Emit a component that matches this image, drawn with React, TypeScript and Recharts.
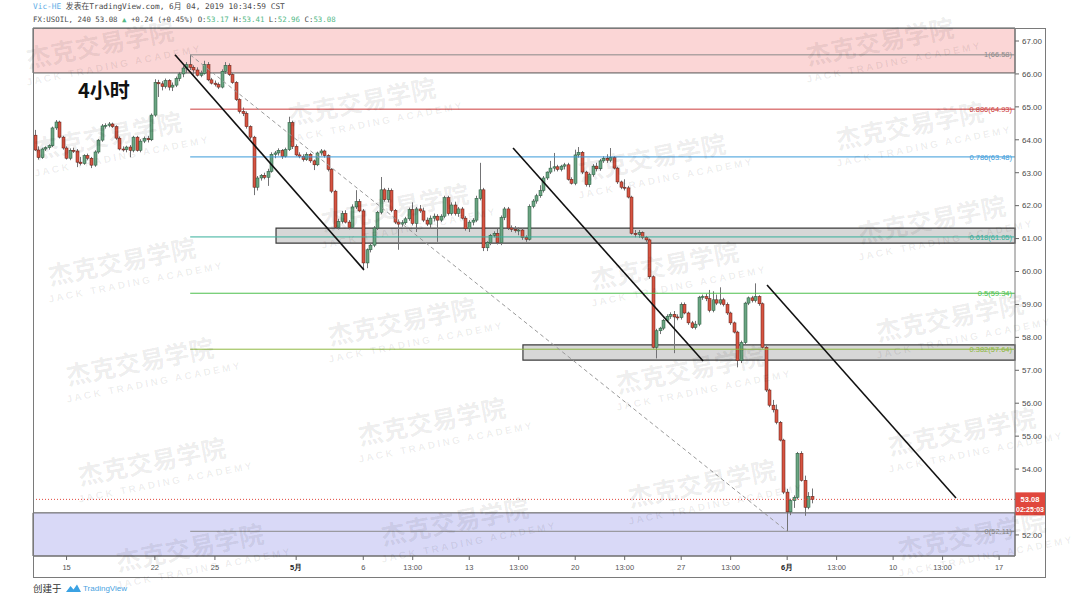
import React from 'react';
import { ComposedChart, Bar, XAxis, YAxis, ReferenceLine, ReferenceArea } from 'recharts';

// FX:USOIL 4h candles [open, high, low, close]
const wk0412 = [
  [64.14, 64.30, 63.66, 63.69], [63.69, 63.80, 63.40, 63.46], [63.46, 63.76, 63.42, 63.72],
  [63.72, 63.80, 63.66, 63.76], [63.76, 63.86, 63.70, 63.82], [63.82, 64.40, 63.78, 64.36],
  [64.36, 64.60, 64.30, 64.54], [64.54, 64.58, 64.04, 64.08], [64.08, 64.12, 63.70, 63.75],
];
const wk0415 = [
  [63.75, 63.80, 63.40, 63.44], [63.44, 63.74, 63.38, 63.68], [63.68, 63.76, 63.60, 63.66],
  [63.66, 63.72, 63.17, 63.32], [63.32, 63.48, 63.22, 63.28], [63.28, 63.56, 63.24, 63.52],
  [63.52, 63.58, 63.38, 63.44], [63.44, 63.48, 63.14, 63.23], [63.23, 63.68, 63.18, 63.63],
  [63.63, 64.02, 63.58, 63.99], [63.99, 64.48, 63.94, 64.42], [64.42, 64.50, 64.34, 64.44],
  [64.44, 64.54, 64.38, 64.48], [64.48, 64.52, 64.36, 64.40], [64.40, 64.44, 64.00, 64.05],
  [64.05, 64.10, 63.68, 63.72], [63.72, 63.80, 63.64, 63.70], [63.70, 63.82, 63.62, 63.78],
  [63.78, 63.84, 63.47, 63.68], [63.68, 64.12, 63.62, 64.08], [64.08, 64.12, 63.64, 63.68],
  [63.68, 64.02, 63.62, 63.96], [63.96, 64.10, 63.90, 64.04], [64.04, 64.12, 63.92, 64.00],
];
const wk0422 = [
  [64.00, 64.80, 63.96, 64.75], [64.75, 65.84, 64.70, 65.74], [65.74, 65.82, 65.30, 65.70],
  [65.70, 65.78, 65.50, 65.62], [65.62, 65.86, 65.56, 65.80], [65.80, 65.84, 65.50, 65.60],
  [65.60, 65.74, 65.48, 65.66], [65.66, 65.92, 65.60, 65.86], [65.86, 66.06, 65.78, 66.00],
  [66.00, 66.25, 65.90, 66.18], [66.18, 66.36, 66.02, 66.28], [66.28, 66.58, 66.12, 66.20],
  [66.20, 66.26, 65.98, 66.12], [66.12, 66.20, 65.92, 65.96], [65.96, 66.10, 65.90, 66.02],
  [66.02, 66.40, 65.98, 66.28], [66.28, 66.36, 65.78, 65.82], [65.82, 65.88, 65.68, 65.72],
  [65.72, 65.80, 65.62, 65.68], [65.68, 65.74, 65.54, 65.60], [65.60, 66.14, 65.56, 66.08],
  [66.08, 66.36, 66.00, 66.26], [66.26, 66.32, 65.94, 65.98], [65.98, 66.02, 65.70, 65.74],
  [65.74, 65.78, 65.18, 65.22], [65.22, 65.26, 64.80, 64.86], [64.86, 64.98, 64.72, 64.80],
  [64.80, 64.86, 64.34, 64.40], [64.40, 64.44, 64.02, 64.08], [64.08, 64.12, 62.32, 62.56],
];
const wk0429 = [
  [62.56, 62.90, 62.46, 62.84], [62.84, 62.96, 62.76, 62.92], [62.92, 63.00, 62.80, 62.86],
  [62.86, 63.12, 62.60, 63.04], [63.04, 63.62, 63.00, 63.56], [63.56, 63.66, 63.44, 63.60],
  [63.60, 63.74, 63.52, 63.68], [63.68, 63.72, 63.42, 63.50], [63.50, 63.76, 63.46, 63.70],
  [63.70, 64.70, 63.66, 64.52], [64.52, 64.58, 63.72, 63.80], [63.80, 63.86, 63.50, 63.54],
  [63.54, 63.62, 63.44, 63.50], [63.50, 63.56, 63.34, 63.40], [63.40, 63.62, 63.36, 63.56],
  [63.56, 63.60, 63.30, 63.36], [63.36, 63.40, 63.08, 63.24], [63.24, 63.64, 63.20, 63.60],
  [63.60, 63.72, 63.52, 63.66], [63.66, 63.70, 63.46, 63.52], [63.52, 63.56, 63.04, 63.10],
  [63.10, 63.14, 62.38, 62.44], [62.44, 62.48, 61.30, 61.34], [61.34, 61.60, 61.28, 61.52],
  [61.52, 61.84, 61.46, 61.76], [61.76, 61.86, 61.46, 61.50], [61.50, 61.56, 61.28, 61.34],
  [61.34, 62.04, 61.30, 61.96], [61.96, 62.47, 61.90, 62.12], [62.12, 62.20, 61.80, 61.84],
];
const wk0506 = [
  [61.84, 61.90, 60.04, 60.26], [60.26, 60.70, 60.10, 60.66], [60.66, 60.86, 60.58, 60.80],
  [60.80, 61.38, 60.74, 61.32], [61.32, 61.84, 61.26, 61.80], [61.80, 62.87, 61.74, 62.48],
  [62.48, 62.54, 62.12, 62.18], [62.18, 62.54, 62.10, 62.46], [62.46, 62.52, 61.80, 61.86],
  [61.86, 61.90, 61.44, 61.50], [61.50, 61.58, 60.66, 61.44], [61.44, 61.56, 61.36, 61.48],
  [61.48, 61.66, 61.42, 61.60], [61.60, 61.94, 61.54, 61.88], [61.88, 62.10, 61.40, 61.46],
  [61.46, 61.96, 61.20, 61.90], [61.90, 62.02, 61.78, 61.84], [61.84, 61.94, 61.50, 61.56],
  [61.56, 61.64, 61.38, 61.44], [61.44, 61.70, 61.30, 61.62], [61.62, 61.76, 61.52, 61.68],
  [61.68, 61.74, 60.90, 61.56], [61.56, 61.74, 61.50, 61.68], [61.68, 62.30, 61.62, 62.24],
  [62.24, 62.30, 61.70, 61.76], [61.76, 62.10, 61.70, 62.02], [62.02, 62.12, 61.70, 61.76],
  [61.76, 61.96, 61.66, 61.90], [61.90, 61.96, 61.58, 61.62], [61.62, 61.68, 61.24, 61.30],
];
const wk0513 = [
  [61.30, 61.56, 61.20, 61.50], [61.50, 61.62, 61.40, 61.56], [61.56, 62.30, 61.50, 62.22],
  [62.22, 63.30, 62.16, 62.48], [62.48, 62.54, 60.62, 60.72], [60.72, 60.92, 60.62, 60.88],
  [60.88, 61.14, 60.80, 61.10], [61.10, 61.22, 61.04, 61.16], [61.16, 61.30, 60.82, 60.88],
  [60.88, 61.70, 60.80, 61.64], [61.64, 61.96, 61.56, 61.90], [61.90, 61.96, 61.26, 61.32],
  [61.32, 61.40, 61.20, 61.28], [61.28, 61.38, 61.18, 61.24], [61.24, 61.34, 61.10, 61.26],
  [61.26, 61.32, 60.96, 61.04], [61.04, 61.10, 60.90, 60.98], [60.98, 62.04, 60.94, 61.98],
  [61.98, 62.20, 61.92, 62.14], [62.14, 62.36, 62.06, 62.30], [62.30, 62.62, 62.24, 62.46],
  [62.46, 62.90, 62.40, 62.84], [62.84, 63.04, 62.78, 63.02], [63.02, 63.36, 62.96, 63.14],
  [63.14, 63.60, 63.04, 63.18], [63.18, 63.24, 63.04, 63.10], [63.10, 63.24, 63.04, 63.20],
  [63.20, 63.30, 63.10, 63.24], [63.24, 63.30, 62.76, 62.80], [62.80, 62.86, 62.64, 62.68],
];
const wk0520 = [
  [62.68, 63.70, 62.62, 63.54], [63.54, 63.78, 63.46, 63.62], [63.62, 63.66, 62.96, 63.02],
  [63.02, 63.06, 62.58, 62.64], [62.64, 63.00, 62.56, 62.94], [62.94, 63.26, 62.88, 63.20],
  [63.20, 63.30, 63.04, 63.12], [63.12, 63.42, 63.06, 63.36], [63.36, 63.50, 63.30, 63.44],
  [63.44, 63.56, 63.30, 63.38], [63.38, 63.75, 63.32, 63.46], [63.46, 63.50, 63.10, 63.14],
  [63.14, 63.18, 62.66, 62.72], [62.72, 62.76, 62.50, 62.56], [62.56, 62.80, 62.46, 62.54],
  [62.54, 62.60, 62.22, 62.26], [62.26, 62.30, 61.12, 61.16], [61.16, 61.26, 61.04, 61.12],
  [61.12, 61.26, 61.02, 61.18], [61.18, 61.22, 60.98, 61.04], [61.04, 61.08, 60.90, 60.96],
  [60.96, 61.00, 59.78, 59.84], [59.84, 59.88, 57.66, 57.70], [57.70, 58.26, 57.36, 58.20],
  [58.20, 58.32, 58.10, 58.28], [58.28, 58.56, 58.22, 58.52], [58.52, 58.70, 58.46, 58.64],
  [58.64, 58.76, 58.56, 58.70], [58.70, 58.80, 57.52, 58.62], [58.62, 58.70, 58.52, 58.60],
];
const wk0527 = [
  [58.60, 59.06, 58.54, 59.00], [59.00, 59.06, 58.70, 58.74], [58.74, 58.78, 58.38, 58.44],
  [58.44, 58.50, 58.26, 58.30], [58.30, 58.50, 58.24, 58.40], [58.40, 59.26, 58.34, 59.22],
  [59.22, 59.30, 59.14, 59.24], [59.24, 59.32, 59.10, 59.18], [59.18, 59.44, 58.76, 58.82],
  [58.82, 59.40, 58.76, 59.14], [59.14, 59.30, 58.98, 59.04], [59.04, 59.52, 58.98, 59.14],
  [59.14, 59.20, 58.94, 59.00], [59.00, 59.06, 58.68, 58.74], [58.74, 58.78, 58.38, 58.44],
  [58.44, 58.48, 58.12, 58.16], [58.16, 58.20, 57.09, 57.30], [57.30, 57.90, 57.22, 57.84],
  [57.84, 59.08, 57.78, 59.04], [59.04, 59.24, 58.98, 59.20], [59.20, 59.26, 59.06, 59.12],
  [59.12, 59.64, 59.06, 59.24], [59.24, 59.28, 58.96, 59.02], [59.02, 59.06, 57.66, 57.70],
  [57.70, 57.74, 56.34, 56.40], [56.40, 56.44, 55.88, 55.94], [55.94, 56.10, 55.72, 55.80],
  [55.80, 55.96, 55.36, 55.42], [55.42, 55.46, 54.84, 54.88], [54.88, 54.92, 53.24, 53.30],
];
const wk0603 = [
  [53.30, 53.40, 52.11, 52.70], [52.70, 53.10, 52.60, 53.04], [53.04, 53.20, 52.82, 53.14],
  [53.14, 54.52, 53.08, 54.48], [54.48, 54.54, 53.62, 53.66], [53.66, 53.80, 52.58, 52.84],
  [52.84, 53.30, 52.78, 53.17], [53.17, 53.41, 52.96, 53.08],
];

// bar-index positions of the time-axis labels
const X_TICKS = [9, 34, 51, 74, 93, 107, 123, 137, 153, 167, 183, 197, 213, 227, 243, 257, 273];
const X_LABELS = ['15', '22', '25', '5月', '6', '13:00', '13', '13:00', '20', '13:00', '27', '13:00', '6月', '13:00', '10', '13:00', '17'];
const Y_TICKS = [52, 54, 55, 56, 57, 58, 59, 60, 61, 62, 63, 64, 65, 66, 67];

// fib retracement drawn from the 4/23 high to the 6/3 low
const FIB_RATIOS = ['1', '0.886', '0.786', '0.618', '0.5', '0.382', '0'];
const FIB_PRICES = [66.58, 64.93, 63.48, 61.05, 59.34, 57.64, 52.11];
const FIB_COLORS = ['#8a8a8a', '#cc3d3d', '#3a9ad9', '#36b09a', '#4cbf4c', '#8fb843', '#8a8a8a'];
const FIB_FROM = 44;
const FIB_TO = 213;

// hand-drawn trend lines [barFrom, priceFrom, barTo, priceTo]
const TREND_LINES = [
  [39.7, 66.58, 93.2, 60.05],
  [135.4, 63.75, 189.2, 57.28],
  [207.3, 59.59, 260.8, 53.12],
];

// boxes [barFrom, barTo, priceLow, priceHigh]
const BOXES = [
  [68.3, 277.5, 60.86, 61.32],
  [138.2, 277.5, 57.31, 57.77],
];
const TOP_ZONE = [66.03, 67.395];
const BOTTOM_ZONE = [51.36, 52.67];

const LAST_PRICE = 53.08;
const COUNTDOWN = '02:25:03';

const X_DOMAIN = [-0.5, 277.5];
const Y_DOMAIN = [51.36, 67.395];

const WATERMARKS = [
  [100, 45], [880, 42], [362, 102], [910, 126], [108, 136], [652, 158], [395, 208], [932, 220],
  [122, 262], [665, 266], [402, 322], [950, 318], [140, 362], [690, 370], [432, 422], [962, 432],
  [152, 462], [702, 484], [455, 522], [972, 536], [190, 548],
];

const candles = [...wk0412, ...wk0415, ...wk0422, ...wk0429, ...wk0506, ...wk0513, ...wk0520, ...wk0527, ...wk0603]
  .map((c, i) => ({ i, o: c[0], h: c[1], l: c[2], c: c[3] }));

const SANS = '"Liberation Sans", Arial, sans-serif';

function Candle(props: any) {
  const { x, y, width, height, payload } = props;
  if (!payload || y == null || height == null) return null;
  const top = Math.min(y, y + height);
  const bot = Math.max(y, y + height);
  const { o, h, l, c } = payload;
  const k = h > l ? (bot - top) / (h - l) : 0;
  const cx = Math.round(x + width / 2);
  const yO = top + (h - o) * k;
  const yC = top + (h - c) * k;
  const up = c >= o;
  const bTop = Math.min(yO, yC);
  const bH = Math.max(1, Math.abs(yC - yO));
  return (
    <g>
      <line x1={cx + 0.5} x2={cx + 0.5} y1={top} y2={bot} stroke="#737375" strokeWidth={1} />
      <rect
        x={cx - 1}
        y={bTop}
        width={3}
        height={bH}
        fill={up ? '#6ba583' : '#d75442'}
        stroke={up ? '#225437' : '#5b1a13'}
        strokeWidth={0.5}
      />
    </g>
  );
}

function XTick(props: any) {
  const { x, y, payload } = props;
  const idx = X_TICKS.indexOf(payload.value);
  const label = idx >= 0 ? X_LABELS[idx] : '';
  const month = label.includes('月');
  return (
    <text x={x} y={y} dy={8} textAnchor="middle" fontSize={7.5} fontFamily={SANS} fill={month ? '#222' : '#555'} fontWeight={month ? 700 : 400}>
      {label}
    </text>
  );
}

const fibLabel = (text: string, color: string) => (props: any) => {
  const vb = props.viewBox || {};
  const xr = (vb.x ?? 0) + (vb.width ?? 0) - 3;
  return (
    <text x={xr} y={vb.y} dy="0.35em" textAnchor="end" fontSize={7.5} fontFamily={SANS} fill={color}>
      {text}
    </text>
  );
};

const priceTag = (props: any) => {
  const vb = props.viewBox || {};
  const x0 = (vb.x ?? 0) + (vb.width ?? 0);
  const y0 = vb.y ?? 0;
  return (
    <g>
      <rect x={x0} y={y0 - 7} width={30} height={23} fill="#e0473d" />
      <text x={x0 + 15} y={y0} dy="0.35em" textAnchor="middle" fontSize={7.5} fontWeight={700} fontFamily={SANS} fill="#fff">
        {LAST_PRICE.toFixed(2)}
      </text>
      <text x={x0 + 15} y={y0 + 10} dy="0.35em" textAnchor="middle" fontSize={7} fontWeight={700} fontFamily={SANS} fill="#fff">
        {COUNTDOWN}
      </text>
    </g>
  );
};

const line = (l: number, t: number, w: number, h: number) => (
  <div style={{ position: 'absolute', left: l, top: t, width: w, height: h, background: '#7a7a7a' }} />
);

export default function App() {
  return (
    <div style={{ position: 'relative', width: 1080, height: 600, background: '#fff', overflow: 'hidden' }}>
      <style>{'body{margin:0}'}</style>

      <div style={{ position: 'absolute', left: 33, top: 2, fontFamily: '"DejaVu Sans Mono", "Noto Sans CJK SC", monospace', fontSize: 7.8, lineHeight: '10px', color: '#4a4a4a', whiteSpace: 'pre' }}>
        <span style={{ color: '#62aee6' }}>Vic-HE</span> 发表在TradingView.com, 6月 04, 2019 10:34:59 CST
      </div>
      <div style={{ position: 'absolute', left: 33, top: 15, fontFamily: '"DejaVu Sans Mono", monospace', fontSize: 7.4, lineHeight: '10px', color: '#4a4a4a', whiteSpace: 'pre' }}>
        FX:USOIL, 240 53.08 <span style={{ color: '#53b987' }}>▲</span> +0.24 (+0.45%) O:<span style={{ color: '#53b987' }}>53.17</span> H:<span style={{ color: '#53b987' }}>53.41</span> L:<span style={{ color: '#53b987' }}>52.96</span> C:<span style={{ color: '#53b987' }}>53.08</span>
      </div>

      <div style={{ position: 'absolute', left: 0, top: 0 }}>
        <ComposedChart width={1080} height={600} data={candles} margin={{ top: 28, right: 35, bottom: 23, left: 33 }}>
          <XAxis
            dataKey="i"
            type="number"
            domain={X_DOMAIN}
            allowDataOverflow
            ticks={X_TICKS}
            interval={0}
            height={21}
            tickSize={4}
            tickLine={{ stroke: '#666' }}
            axisLine={{ stroke: '#7a7a7a' }}
            tick={<XTick />}
          />
          <YAxis
            orientation="right"
            type="number"
            domain={Y_DOMAIN}
            allowDataOverflow
            ticks={Y_TICKS}
            interval={0}
            width={30}
            tickSize={4}
            tickMargin={3}
            tickLine={{ stroke: '#666' }}
            axisLine={{ stroke: '#7a7a7a' }}
            tick={{ fontSize: 8, fill: '#4a4a4a', fontFamily: SANS }}
            tickFormatter={(v: number) => v.toFixed(2)}
          />

          <ReferenceArea y1={TOP_ZONE[0]} y2={TOP_ZONE[1]} fill="#fbd6d6" fillOpacity={1} stroke="#555" strokeWidth={1} ifOverflow="visible" />
          <ReferenceArea y1={BOTTOM_ZONE[0]} y2={BOTTOM_ZONE[1]} fill="#d9d9f7" fillOpacity={1} stroke="#555" strokeWidth={1} ifOverflow="visible" />

          {FIB_PRICES.map((p, k) => (
            <ReferenceLine
              key={'fib' + k}
              segment={[{ x: FIB_FROM, y: p }, { x: X_DOMAIN[1], y: p }]}
              stroke={FIB_COLORS[k]}
              strokeWidth={1}
              ifOverflow="visible"
              label={fibLabel(`${FIB_RATIOS[k]}(${p.toFixed(2)})`, FIB_COLORS[k])}
            />
          ))}

          {BOXES.map((b, k) => (
            <ReferenceArea key={'box' + k} x1={b[0]} x2={b[1]} y1={b[2]} y2={b[3]} fill="#bdbdbd" fillOpacity={0.6} stroke="#3c3c3c" strokeWidth={1.2} ifOverflow="visible" />
          ))}

          <ReferenceLine y={LAST_PRICE} stroke="#e0473d" strokeDasharray="1 2" ifOverflow="visible" label={priceTag} />

          <Bar dataKey={(d: any) => [d.l, d.h]} barSize={3} shape={(p: any) => <Candle {...p} />} isAnimationActive={false} />

          <ReferenceLine
            segment={[{ x: FIB_FROM, y: FIB_PRICES[0] }, { x: FIB_TO, y: FIB_PRICES[6] }]}
            stroke="#9a9a9a"
            strokeDasharray="4 3"
            ifOverflow="visible"
          />
          {TREND_LINES.map((t, k) => (
            <ReferenceLine key={'tl' + k} segment={[{ x: t[0], y: t[1] }, { x: t[2], y: t[3] }]} stroke="#111" strokeWidth={1.6} ifOverflow="visible" />
          ))}
        </ComposedChart>
      </div>

      {line(33, 28, 1013, 1)}
      {line(33, 28, 1, 549)}
      {line(1045, 28, 1, 549)}
      {line(33, 577, 1013, 1)}

      <svg width={1080} height={600} style={{ position: 'absolute', left: 0, top: 0, pointerEvents: 'none' }}>
        <text x={78} y={98} fontSize={20} fontWeight={700} fontFamily='"Noto Sans CJK SC", sans-serif' fill="#111">4小时</text>
        {WATERMARKS.map(([wx, wy], k) => (
          <g key={k} transform={`translate(${wx},${wy}) rotate(-11)`} fill="#000" fillOpacity={0.08}>
            <text x={0} y={9} textAnchor="middle" fontSize={25} fontWeight={700} fontFamily='"Noto Sans CJK SC", sans-serif'>杰克交易学院</text>
            <text x={10} y={26} textAnchor="middle" fontSize={10} fontWeight={700} letterSpacing={2.5} fontFamily={SANS}>JACK TRADING ACADEMY</text>
          </g>
        ))}
        <path d="M66 592 L70.5 586 L73.5 589.5 L77 584.5 L81 592 Z" fill="#3ba2e3" />
        <text x={83} y={591} fontSize={8} fontFamily={SANS} fill="#4aa3df">TradingView</text>
      </svg>

      <div style={{ position: 'absolute', left: 33, top: 582, fontFamily: '"Noto Sans CJK SC", sans-serif', fontSize: 9.5, lineHeight: '12px', color: '#333' }}>
        创建于
      </div>
    </div>
  );
}
